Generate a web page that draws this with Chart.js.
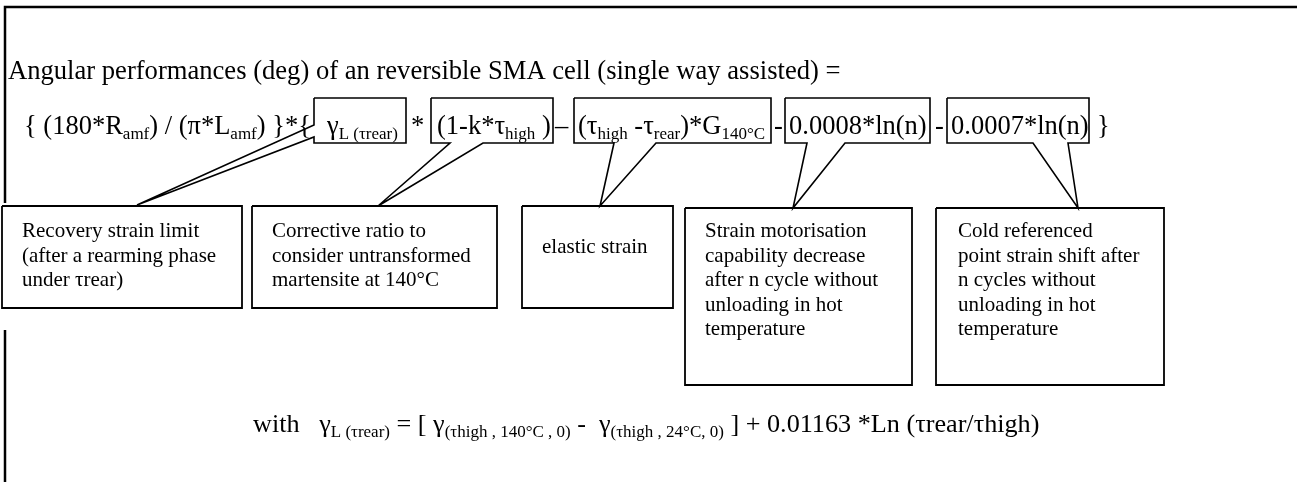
<!DOCTYPE html>
<html>
<head>
<meta charset="utf-8">
<script src="https://cdn.jsdelivr.net/npm/chart.js@4.4.1/dist/chart.umd.min.js"></script>
<style>
  html, body { margin: 0; padding: 0; background: #fff; }
  #sheet { display: block; }
</style>
</head>
<body>
<canvas id="sheet" width="1297" height="482"></canvas>
<script>
    // text content of the sheet
    var titleText = 'Angular performances (deg) of an reversible SMA cell (single way assisted) =';

    // formula pieces: [text, isSubscript]
    var formulaRuns = [
        [['{ (180*R', 0], ['amf', 1], [') / (\u03c0*L', 0], ['amf', 1], [') }*{', 0]],
        [['\u03b3', 0], ['L (\u03c4rear)', 1]],
        [['*', 0]],
        [['(1-k*\u03c4', 0], ['high', 1], [' )', 0]],
        [['\u2013', 0]],
        [['(\u03c4', 0], ['high', 1], [' -\u03c4', 0], ['rear', 1], [')*G', 0], ['140\u00b0C', 1]],
        [['-', 0]],
        [['0.0008*ln(n)', 0]],
        [['-', 0]],
        [['0.0007*ln(n)', 0]],
        [['}', 0]]
    ];
    var formulaX = [24, 327, 411, 437, 555, 578, 774, 789, 935, 951, 1097];

    var noteTexts = [
        ['Recovery strain limit', '(after a rearming phase', 'under \u03c4rear)'],
        ['Corrective ratio to', 'consider untransformed', 'martensite at 140\u00b0C'],
        ['elastic strain'],
        ['Strain motorisation', 'capability decrease', 'after n cycle without', 'unloading in hot', 'temperature'],
        ['Cold referenced', 'point strain shift after', 'n cycles without', 'unloading in hot', 'temperature']
    ];

    var withRuns = [
        ['with   \u03b3', 0], ['L (\u03c4rear)', 1], [' = [ \u03b3', 0], ['(\u03c4high , 140\u00b0C , 0)', 1],
        [' -  \u03b3', 0], ['(\u03c4high , 24\u00b0C, 0)', 1], [' ] + 0.01163 *Ln (\u03c4rear/\u03c4high)', 0]
    ];

    // layout: formula boxes [left, right], callout wedge [baseA, baseB, tipX, tipY]
    var formulaBoxes = [
        { l: 314, r: 406, side: 'left', wedge: [137, 125, 137, 205] },
        { l: 431, r: 553, side: 'bottom', wedge: [483, 450, 378, 206] },
        { l: 574, r: 771, side: 'bottom', wedge: [656, 614, 600, 206] },
        { l: 785, r: 930, side: 'bottom', wedge: [845, 807, 793, 208] },
        { l: 947, r: 1089, side: 'bottom', wedge: [1068, 1033, 1078, 208] }
    ];
    var fTop = 98, fBottom = 143;

    var noteBoxes = [
        { l: 2, r: 242, t: 206, b: 308, tx: 22, ty: 237 },
        { l: 252, r: 497, t: 206, b: 308, tx: 272, ty: 237 },
        { l: 522, r: 673, t: 206, b: 308, tx: 542, ty: 253 },
        { l: 685, r: 912, t: 208, b: 385, tx: 705, ty: 237 },
        { l: 936, r: 1164, t: 208, b: 385, tx: 958, ty: 237 }
    ];

    function calloutOutline(b) {
        var w = b.wedge;
        if (b.side == 'left') {
            return [
                {x: b.l, y: fTop}, {x: b.r, y: fTop}, {x: b.r, y: fBottom}, {x: b.l, y: fBottom},
                {x: b.l, y: w[0]}, {x: w[2], y: w[3]}, {x: b.l, y: w[1]}, {x: b.l, y: fTop}
            ];
        }
        return [
            {x: b.l, y: fTop}, {x: b.r, y: fTop}, {x: b.r, y: fBottom}, {x: w[0], y: fBottom},
            {x: w[2], y: w[3]}, {x: w[1], y: fBottom}, {x: b.l, y: fBottom}, {x: b.l, y: fTop}
        ];
    }

    function rectOutline(b) {
        return [{x: b.l, y: b.t}, {x: b.r, y: b.t}, {x: b.r, y: b.b}, {x: b.l, y: b.b}, {x: b.l, y: b.t}];
    }

    let dataset = [];
    // page frame
    dataset.push({ data: [{x: 5, y: 482}, {x: 5, y: 330}], borderWidth: 2.5 });
    dataset.push({ data: [{x: 5, y: 203}, {x: 5, y: 7}, {x: 1297, y: 7}], borderWidth: 2.5 });
    for (let i = 0; i < formulaBoxes.length; i += 1) {
        dataset.push({ data: calloutOutline(formulaBoxes[i]), borderWidth: 1.6, backgroundColor: '#fff', fill: true });
    }
    for (let i = 0; i < noteBoxes.length; i += 1) {
        dataset.push({ data: rectOutline(noteBoxes[i]), borderWidth: 1.8, backgroundColor: '#fff', fill: true });
    }
    dataset.forEach(function (d) {
        d.showLine = true;
        d.borderColor = '#000';
        d.pointRadius = 0;
        d.tension = 0;
        if (!d.fill) d.fill = false;
    });

    const SERIF = '"Liberation Serif", "Times New Roman", serif';

    function drawRuns(ctx, runs, x, y, big, small, drop) {
        for (let i = 0; i < runs.length; i += 1) {
            var sub = runs[i][1];
            ctx.font = (sub ? small : big) + 'px ' + SERIF;
            ctx.fillText(runs[i][0], x, sub ? y + drop : y);
            x += ctx.measureText(runs[i][0]).width;
        }
    }

    const textPlugin = {
        id: 'sheetText',
        afterDatasetsDraw(chart) {
            const ctx = chart.ctx;
            const sx = chart.scales.x, sy = chart.scales.y;
            const px = v => sx.getPixelForValue(v);
            const py = v => sy.getPixelForValue(v);
            ctx.save();
            ctx.fillStyle = '#000';
            ctx.textBaseline = 'alphabetic';
            ctx.textAlign = 'left';

            ctx.font = '26.6px ' + SERIF;
            ctx.fillText(titleText, px(8), py(79));

            for (let i = 0; i < formulaRuns.length; i += 1) {
                drawRuns(ctx, formulaRuns[i], px(formulaX[i]), py(134), 26.5, 17, 5);
            }

            ctx.font = '21px ' + SERIF;
            for (let i = 0; i < noteTexts.length; i += 1) {
                var nb = noteBoxes[i];
                for (let j = 0; j < noteTexts[i].length; j += 1) {
                    ctx.fillText(noteTexts[i][j], px(nb.tx), py(nb.ty + j * 24.6));
                }
            }

            drawRuns(ctx, withRuns, px(253), py(432), 26.2, 17, 5);
            ctx.restore();
        }
    };

    new Chart(document.getElementById('sheet'), {
        type: 'scatter',
        data: { datasets: dataset },
        options: {
            responsive: false,
            animation: false,
            events: [],
            layout: { padding: 0 },
            plugins: {
                legend: { display: false },
                tooltip: { enabled: false },
                title: { display: false }
            },
            scales: {
                x: { type: 'linear', min: 0, max: 1297, display: false },
                y: { type: 'linear', min: 0, max: 482, reverse: true, display: false }
            }
        },
        plugins: [textPlugin]
    });
</script>
</body>
</html>
